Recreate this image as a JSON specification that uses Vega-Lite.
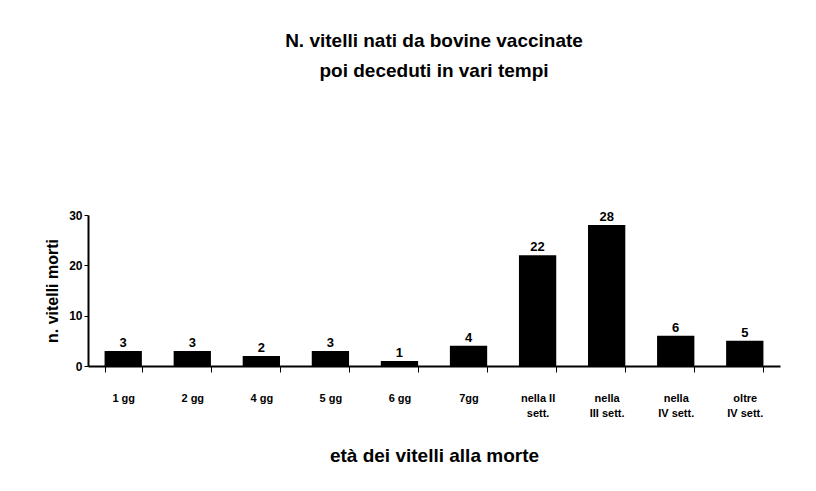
{
  "$schema": "https://vega.github.io/schema/vega-lite/v6.json",
  "autosize": {"type": "none"},
  "width": 692,
  "height": 151,
  "padding": {"left": 88, "top": 215, "right": 36, "bottom": 125},
  "background": "white",
  "title": {
    "text": ["N. vitelli nati da bovine vaccinate", "poi deceduti  in vari tempi"],
    "anchor": "middle",
    "offset": 128,
    "fontSize": 19,
    "font": "Liberation Sans",
    "fontWeight": "bold",
    "lineHeight": 30,
    "color": "black"
  },
  "data": {
    "values": [
      {"eta": "1 gg", "n": 3},
      {"eta": "2 gg", "n": 3},
      {"eta": "4 gg", "n": 2},
      {"eta": "5 gg", "n": 3},
      {"eta": "6 gg", "n": 1},
      {"eta": "7gg", "n": 4},
      {"eta": "nella II|sett.", "n": 22},
      {"eta": "nella|III sett.", "n": 28},
      {"eta": "nella|IV sett.", "n": 6},
      {"eta": "oltre|IV sett.", "n": 5}
    ]
  },
  "encoding": {
    "x": {
      "field": "eta",
      "type": "nominal",
      "sort": null,
      "scale": {"paddingInner": 0.46, "paddingOuter": 0.24},
      "axis": {
        "title": "età dei vitelli alla morte",
        "titleFontSize": 19,
        "titleFont": "Liberation Sans",
        "titleFontWeight": "bold",
        "titlePadding": 28,
        "labelAngle": 0,
        "labelExpr": "split(datum.label, '|')",
        "labelFontSize": 11,
        "labelFont": "Liberation Sans",
        "labelFontWeight": "bold",
        "labelPadding": 20,
        "labelLineHeight": 15,
        "tickBand": "extent",
        "tickSize": 6,
        "tickColor": "black",
        "domainColor": "black",
        "domainWidth": 2,
        "labelColor": "black",
        "titleColor": "black"
      }
    },
    "y": {
      "field": "n",
      "type": "quantitative",
      "scale": {"domain": [0, 30]},
      "axis": {
        "title": "n. vitelli morti",
        "values": [0, 10, 20, 30],
        "grid": false,
        "titleFontSize": 16,
        "titleFont": "Liberation Sans",
        "titleFontWeight": "bold",
        "titlePadding": 8,
        "labelFontSize": 12,
        "labelFont": "Liberation Sans",
        "labelFontWeight": "bold",
        "tickSize": 4,
        "tickColor": "black",
        "domainColor": "black",
        "domainWidth": 2,
        "labelColor": "black",
        "titleColor": "black"
      }
    }
  },
  "layer": [
    {"mark": {"type": "bar", "color": "black"}},
    {
      "mark": {"type": "text", "dy": -8, "fontSize": 13, "font": "Liberation Sans", "fontWeight": "bold", "color": "black"},
      "encoding": {"text": {"field": "n", "type": "quantitative"}}
    }
  ],
  "config": {"view": {"stroke": null}}
}
